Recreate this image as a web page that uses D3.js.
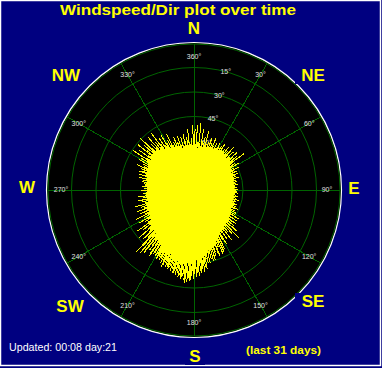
<!DOCTYPE html>
<html>
<head>
<meta charset="utf-8">
<script src="https://cdn.jsdelivr.net/npm/d3@7"></script>
<style>
  body { margin: 0; background: #000080; }
  svg { display: block; }
</style>
</head>
<body>
<svg id="chart" width="382" height="368"></svg>
<script>
// compass points and bearing labels
var compass = [
  {name: "N",  x: 194, y: 34},
  {name: "NE", x: 313, y: 81},
  {name: "E",  x: 354, y: 194},
  {name: "SE", x: 313, y: 307},
  {name: "S",  x: 195, y: 362},
  {name: "SW", x: 70,  y: 312},
  {name: "W",  x: 27,  y: 193},
  {name: "NW", x: 66,  y: 81}
];
var bearingTicks = [0, 30, 60, 90, 120, 150, 180, 210, 240, 270, 300, 330];
var bearingLabels = ["360°", "30°", "60°", "90°", "120°", "150°", "180°", "210°", "240°", "270°", "300°", "330°"];
var ringTicks = [5, 10, 15, 20, 25, 30];
var ringLabels = ["75°", "60°", "45°", "30°", "15°", ""];

// solid core of the plot (bearing, speed)
var coreDir   = [0, 15, 30, 45, 60, 75, 90, 105, 120, 135, 150, 165, 180, 195, 210, 225, 240, 255, 270, 285, 300, 315, 330, 345];
var coreSpeed = [8.2, 8.8, 9.4, 9.2, 8.4, 8.2, 8.2, 8.2, 8.4, 9.0, 10.0, 12.4, 14.4, 14.0, 12.8, 11.4, 10.0, 9.6, 9.4, 9.6, 10.4, 10.8, 9.6, 8.6];

// individual readings over the last 31 days: [bearing, speed]
var readings = [
  [0,8.8],[1,12.4],[2,9.3],[3,13.3],[4,9.8],[5,8.6],[6,13.7],[7,9.6],[8,9.1],[9,12.5],
  [10,10.2],[11,9.0],[12,11.0],[13,9.4],[14,12.3],[15,9.8],[16,9.0],[17,10.2],[18,9.3],[19,11.2],
  [20,9.3],[21,10.3],[22,9.5],[23,11.6],[24,9.8],[25,9.3],[26,10.7],[27,9.7],[28,9.5],[29,11.0],
  [30,10.2],[31,9.6],[32,10.6],[33,9.8],[34,11.3],[35,10.1],[36,9.5],[37,10.5],[38,9.8],[39,11.2],
  [40,9.6],[41,10.6],[42,9.8],[43,11.9],[44,10.1],[45,9.3],[46,11.2],[47,9.9],[48,9.6],[49,11.6],
  [50,10.4],[51,9.4],[52,11.2],[53,9.7],[54,12.7],[55,9.5],[56,8.8],[57,10.0],[58,9.1],[59,10.8],
  [60,8.6],[61,9.4],[62,8.8],[63,10.4],[64,9.0],[65,8.4],[66,9.5],[67,8.7],[68,8.6],[69,9.7],
  [70,8.8],[72,9.0],[74,9.5],[75,8.5],[77,8.7],[79,9.0],[80,8.3],[81,8.7],[83,9.1],[85,8.3],[86,8.8],[89,9.0],
  [90,8.6],[92,8.8],[94,9.1],[95,8.5],[97,8.7],[99,9.0],[100,8.3],[101,8.8],[103,9.4],[104,8.6],[106,9.0],[107,8.5],[109,9.2],
  [110,9.0],[111,8.5],[112,9.3],[113,8.6],[114,9.8],[115,9.0],[116,8.5],[117,9.3],[118,8.7],[119,9.8],
  [120,8.7],[121,9.7],[122,9.0],[123,10.9],[124,9.2],[125,8.8],[126,10.7],[127,9.4],[128,9.1],[129,11.1],
  [130,10.2],[131,9.2],[132,10.9],[133,9.6],[134,12.0],[135,10.3],[136,9.3],[137,13.3],[138,9.7],[139,12.0],
  [140,9.7],[141,11.1],[142,10.1],[143,12.8],[144,10.4],[145,9.9],[146,12.2],[147,10.6],[148,10.2],[149,12.8],
  [150,11.7],[151,10.5],[152,12.6],[152.5,13.6],[153,10.9],[154,14.0],[155,12.1],[155.5,14.4],[156,11.2],[157,12.7],[158,11.6],[158.5,14.6],[159,13.8],
  [160,12.1],[161,13.4],[161.5,14.3],[162,12.4],[163,14.9],[164,12.7],[164.5,15.0],[165,12.7],[166,14.6],[167,13.3],[167.5,15.3],[168,13.0],[169,15.1],
  [170,14.3],[170.5,16.4],[171,13.5],[171.5,15.8],[172,14.9],[172.5,16.9],[173,13.8],[173.5,16.2],[174,15.9],[174.5,17.1],
  [175,14.8],[175.5,16.6],[176,14.0],[176.5,17.5],[177,15.2],[177.5,16.9],[178,14.3],[178.5,17.8],[179,16.1],[179.5,17.2],
  [180,14.7],[180.5,18.1],[181,16.5],[181.5,17.6],[182,15.2],[182.5,18.4],[183,18.6],[183.5,17.9],[184,15.6],[184.5,18.8],
  [185,14.5],[185.5,18.2],[186,19.0],[186.5,18.5],[187,15.4],[187.5,17.8],[188,14.9],[188.5,18.3],[189,17.9],[189.5,17.5],
  [190,15.6],[190.5,18.0],[191,14.5],[191.5,17.2],[192,16.2],[192.5,17.8],[193,14.9],[193.5,17.0],[194,17.4],[194.5,17.5],
  [195,15.0],[195.5,16.8],[196,14.2],[196.5,17.3],[197,15.5],[197.5,16.5],[198,14.5],[198.5,17.0],[199,16.6],[199.5,16.3],
  [200,13.9],[200.5,16.8],[201,15.3],[201.5,16.0],[202,14.3],[202.5,16.6],[203,17.0],[203.5,15.8],[204,14.6],[204.5,16.4],
  [205,13.4],[205.5,15.6],[206,15.5],[206.5,16.1],[207,14.0],[207.5,15.3],[208,13.7],[208.5,15.9],[209,16.0],[209.5,15.0],
  [210,14.2],[210.5,15.7],[211,13.2],[212,15.0],[212.5,15.4],[213,13.5],[214,16.2],[214.5,15.9],
  [215,13.7],[216,12.5],[216.5,15.2],[217,14.4],[218,13.0],[218.5,16.4],[219,15.8],
  [220,12.4],[220.5,16.9],[221,14.6],[222,13.0],[222.5,15.6],[223,17.2],[224,13.5],[225,11.6],[226,14.3],[227,12.5],[228,12.0],[229,15.0],
  [230,12.3],[231,11.3],[232,13.1],[233,11.6],[234,14.3],[235,11.5],[236,10.7],[237,12.0],[238,11.0],[239,13.0],
  [240,10.3],[241,11.7],[242,10.7],[243,13.3],[244,11.0],[245,10.1],[246,12.1],[247,10.7],[248,10.4],[249,12.5],
  [250,10.9],[251,10.0],[252,11.4],[253,10.3],[254,12.5],[255,10.4],[256,9.7],[257,10.8],[258,10.0],[259,11.6],
  [260,9.7],[261,10.6],[262,9.9],[263,11.6],[264,10.1],[265,9.5],[266,10.5],[267,9.8],[268,9.6],[269,10.8],
  [270,10.0],[271,9.5],[272,10.2],[273,9.7],[274,10.7],[275,10.0],[276,9.6],[277,10.3],[278,9.8],[279,10.8],
  [280,9.8],[281,10.6],[282,10.0],[283,11.6],[284,10.2],[285,9.9],[286,11.6],[287,10.5],[288,10.2],[289,12.0],
  [290,11.2],[291,10.3],[292,11.7],[293,10.6],[294,12.8],[295,11.2],[296,10.4],[297,11.7],[298,10.7],[299,12.8],
  [300,10.8],[301,12.6],[302,11.3],[303,14.8],[304,11.7],[305,10.8],[306,14.0],[307,11.8],[308,11.3],[309,14.7],
  [310,12.6],[311,11.2],[312,13.6],[313,11.7],[314,15.3],[315,12.2],[316,11.0],[317,12.8],[318,11.5],[319,14.2],
  [320,10.8],[321,12.5],[322,11.2],[323,14.5],[324,11.6],[325,10.2],[326,12.7],[327,11.0],[328,10.6],[329,13.2],
  [330,11.0],[331,9.9],[332,11.6],[333,10.3],[334,12.8],[335,10.2],[336,9.4],[337,10.6],[338,9.7],[339,11.6],
  [340,9.3],[341,10.3],[342,9.5],[343,11.5],[344,9.8],[345,8.8],[346,11.1],[347,9.5],[348,9.1],[349,11.7],
  [350,10.1],[351,8.8],[352,11.0],[353,9.3],[354,12.5],[355,9.8],[356,8.6],[357,10.6],[358,9.1],[359,13.3]
];

var svg = d3.select("#chart");
var cx = 194, cy = 190, R = 147;
var rad = function(deg) { return deg * Math.PI / 180; };

var r = d3.scaleLinear().domain([0, 30]).range([0, R]);

// frame
svg.append("rect").attr("width", 382).attr("height", 368).attr("fill", "#000080");
svg.append("rect").attr("x", 0.5).attr("y", 0.5).attr("width", 380).attr("height", 365)
   .attr("fill", "none").attr("stroke", "#ffffff").attr("stroke-width", 1.5);

// title
svg.append("text")
   .attr("x", 178).attr("y", 15)
   .attr("text-anchor", "middle")
   .attr("font-family", "Liberation Sans, Arial, sans-serif")
   .attr("font-weight", "bold").attr("font-size", 15)
   .attr("textLength", 236).attr("lengthAdjust", "spacingAndGlyphs")
   .attr("fill", "#ffff00")
   .text("Windspeed/Dir plot over time");

var g = svg.append("g").attr("transform", "translate(" + cx + "," + cy + ")");

// dial
g.append("circle").attr("r", R + 0.5).attr("fill", "#000000")
 .attr("stroke", "#ffffff").attr("stroke-width", 1.2);

g.selectAll(".ring").data(ringTicks).enter().append("circle")
 .attr("class", "ring")
 .attr("r", function(d) { return r(d) - (d == 30 ? 1 : 0); })
 .attr("fill", "none").attr("stroke", "#006400").attr("stroke-width", 1);

g.selectAll(".spoke").data(bearingTicks).enter().append("line")
 .attr("class", "spoke")
 .attr("x1", 0).attr("y1", 0)
 .attr("x2", function(d) { return d3.pointRadial(rad(d), R - 1)[0]; })
 .attr("y2", function(d) { return d3.pointRadial(rad(d), R - 1)[1]; })
 .attr("stroke", "#006400").attr("stroke-width", 1)
 .attr("shape-rendering", "crispEdges");

// bearing labels
g.selectAll(".blab").data(bearingTicks).enter().append("text")
 .attr("class", "blab")
 .attr("x", function(d) { return d3.pointRadial(rad(d), 133)[0]; })
 .attr("y", function(d) { return d3.pointRadial(rad(d), 133)[1]; })
 .attr("text-anchor", "middle").attr("dy", "0.35em")
 .attr("font-family", "Liberation Sans, Arial, sans-serif").attr("font-size", 7)
 .attr("fill", "#e0e0e0")
 .text(function(d, i) { return bearingLabels[i]; });

// ring labels
g.selectAll(".rlab").data(ringTicks).enter().append("text")
 .attr("class", "rlab")
 .attr("x", function(d) { return d3.pointRadial(rad(15), r(d))[0]; })
 .attr("y", function(d) { return d3.pointRadial(rad(15), r(d))[1]; })
 .attr("text-anchor", "middle").attr("dy", "0.35em")
 .attr("font-family", "Liberation Sans, Arial, sans-serif").attr("font-size", 7)
 .attr("fill", "#e0e0e0")
 .text(function(d, i) { return ringLabels[i]; });

// readings
var core = coreDir.map(function(d, i) { return {dir: d, speed: coreSpeed[i]}; });
g.append("path")
 .datum(core)
 .attr("d", d3.lineRadial()
   .angle(function(d) { return rad(d.dir); })
   .radius(function(d) { return r(d.speed); })
   .curve(d3.curveCardinalClosed))
 .attr("fill", "#ffff00").attr("stroke", "#ffff00");

g.selectAll(".reading").data(readings).enter().append("line")
 .attr("class", "reading")
 .attr("x1", 0).attr("y1", 0)
 .attr("x2", function(d) { return d3.pointRadial(rad(d[0]), r(d[1]))[0]; })
 .attr("y2", function(d) { return d3.pointRadial(rad(d[0]), r(d[1]))[1]; })
 .attr("stroke", "#ffff00").attr("stroke-width", 1)
 .attr("shape-rendering", "crispEdges");

// compass names, each on a small navy backdrop
var cg = svg.selectAll(".compass").data(compass).enter().append("g").attr("class", "compass");
cg.append("rect")
  .attr("x", function(d) { return d.x - d.name.length * 8 - 2; })
  .attr("y", function(d) { return d.y - 14; })
  .attr("width", function(d) { return d.name.length * 16 + 4; })
  .attr("height", 17)
  .attr("fill", "#000080");
cg.append("text")
  .attr("x", function(d) { return d.x; })
  .attr("y", function(d) { return d.y; })
  .attr("text-anchor", "middle")
  .attr("font-family", "Liberation Sans, Arial, sans-serif")
  .attr("font-weight", "bold").attr("font-size", 17)
  .attr("fill", "#ffff00")
  .text(function(d) { return d.name; });

// footer
svg.append("text")
   .attr("x", 9).attr("y", 351)
   .attr("font-family", "Liberation Sans, Arial, sans-serif").attr("font-size", 11.5)
   .attr("textLength", 108).attr("lengthAdjust", "spacingAndGlyphs")
   .attr("fill", "#ffffff")
   .text("Updated: 00:08 day:21");
svg.append("text")
   .attr("x", 246).attr("y", 354)
   .attr("font-family", "Liberation Sans, Arial, sans-serif")
   .attr("font-weight", "bold").attr("font-size", 11)
   .attr("textLength", 75).attr("lengthAdjust", "spacingAndGlyphs")
   .attr("fill", "#ffff00")
   .text("(last 31 days)");
</script>
</body>
</html>
